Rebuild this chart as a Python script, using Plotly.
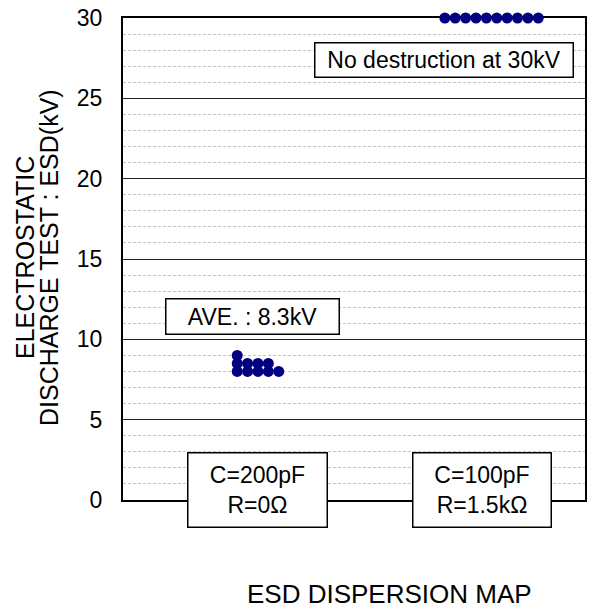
import plotly.graph_objects as go

# ---- data ----
cond_labels = ["C=200pF<br>R=0Ω", "C=100pF<br>R=1.5kΩ"]
# stacked dot positions (slot index within group) and ESD values (kV)
slot_200pF = [0, 0, 0, 1, 1, 2, 2, 3, 3, 4]
esd_200pF = [9.0, 8.5, 8.0, 8.5, 8.0, 8.5, 8.0, 8.5, 8.0, 8.0]
slot_100pF = [0, 1, 2, 3, 4, 5, 6, 7, 8, 9]
esd_100pF = [30, 30, 30, 30, 30, 30, 30, 30, 30, 30]
y_ticks = [0, 5, 10, 15, 20, 25, 30]
ave_text = "AVE. : 8.3kV"
note_text = "No destruction at 30kV"
y_title_lines = ["ELECTROSTATIC", "DISCHARGE TEST : ESD(kV)"]
x_title = "ESD DISPERSION MAP"

# ---- layout helpers ----
W, H = 590, 611
L, R, T, B = 123, 5, 18, 111
PW, PH = W - L - R, H - T - B
base_200 = 11
base_100 = 31
FONT = "Liberation Sans, Arial, sans-serif"


def px_x(p):
    return (p - L) / PW


def px_y(p):
    return (H - B - p) / PH


fig = go.Figure()
fig.add_trace(go.Scatter(
    x=[base_200 + s for s in slot_200pF], y=esd_200pF, mode="markers",
    marker=dict(color="#000080", size=11), cliponaxis=False, showlegend=False,
    hoverinfo="skip"))
fig.add_trace(go.Scatter(
    x=[base_100 + s for s in slot_100pF], y=esd_100pF, mode="markers",
    marker=dict(color="#000080", size=11), cliponaxis=False, showlegend=False,
    hoverinfo="skip"))


def box(text, cx, cy, w, h, size=23):
    bw = 1.5
    pad = 1
    fig.add_annotation(
        x=px_x(cx), y=px_y(cy), xref="paper", yref="paper",
        xanchor="center", yanchor="middle", text=text, showarrow=False,
        font=dict(family=FONT, size=size, color="black"),
        bgcolor="white", bordercolor="black", borderwidth=bw, borderpad=pad,
        width=w - 2 * pad - 2 * bw, height=h - 2 * pad - 2 * bw, align="center")


box(cond_labels[0], 257.5, 490, 141, 76)
box(cond_labels[1], 482, 490, 140, 76)
box(note_text, 444, 60, 260, 36)
box(ave_text, 252.5, 316.5, 175, 37)

for line, cx in zip(y_title_lines, [25, 49]):
    fig.add_annotation(
        x=px_x(cx), y=px_y(258), xref="paper", yref="paper", xanchor="center",
        yanchor="middle", textangle=-90, showarrow=False, text=line,
        borderpad=0, font=dict(family=FONT, size=25, color="black"))

fig.add_annotation(
    x=px_x(389), y=px_y(610), xref="paper", yref="paper", xanchor="center",
    yanchor="bottom", showarrow=False, text=x_title, borderpad=0,
    font=dict(family=FONT, size=26, color="black"))

fig.update_layout(
    width=W, height=H, margin=dict(l=L, r=R, t=T, b=B, autoexpand=False),
    paper_bgcolor="white", plot_bgcolor="white",
    font=dict(family=FONT, size=23, color="black"),
    xaxis=dict(range=[0, 44.5], showticklabels=False, ticks="", showgrid=False,
               zeroline=False, showline=True, linecolor="black", linewidth=2,
               mirror=True, layer="below traces", fixedrange=True),
    yaxis=dict(range=[0, 30], tickvals=y_ticks, ticks="", showgrid=True,
               gridcolor="#202020", gridwidth=1, zeroline=False, showline=True,
               linecolor="black", linewidth=2, mirror=True,
               layer="below traces", ticklabelstandoff=14,
               tickfont=dict(family=FONT, size=23, color="black"),
               minor=dict(dtick=1, showgrid=True, gridcolor="#c4c4c4",
                          griddash="3px,2px", gridwidth=1),
               fixedrange=True),
)

fig.write_html("out.html", config={"displayModeBar": False},
               post_script="document.body.style.margin='0';")
